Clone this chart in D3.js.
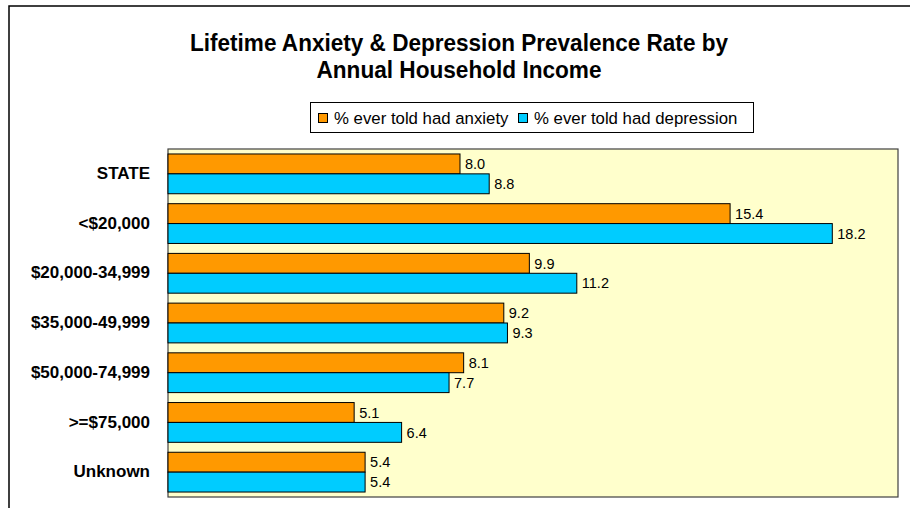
<!DOCTYPE html>
<html><head><meta charset="utf-8">
<script src="https://cdn.jsdelivr.net/npm/d3@7"></script>
<style>body{margin:0;background:#fff}svg{display:block}text{font-family:"Liberation Sans",Arial,sans-serif}</style>
</head><body><svg id="c" width="910" height="508"></svg>
<script>
const categories = ["STATE","<$20,000","$20,000-34,999","$35,000-49,999","$50,000-74,999",">=$75,000","Unknown"];
const seriesNames = ["% ever told had anxiety","% ever told had depression"];
const anxiety = [8.0,15.4,9.9,9.2,8.1,5.1,5.4];
const depression = [8.8,18.2,11.2,9.3,7.7,6.4,5.4];
const colors = ["#FF9900","#00CCFF"];
const titleLines = ["Lifetime Anxiety & Depression Prevalence Rate by","Annual Household Income"];

(function(){
const svg = d3.select("#c");
// chart area border
svg.append("rect").attr("x",9).attr("y",6).attr("width",920).attr("height",520)
  .attr("fill","#fff").attr("stroke","#000").attr("stroke-width",1.5);

// title
const tY = [51,78], tLen = [538,285];
titleLines.forEach((t,i)=>{
  svg.append("text").attr("x",459).attr("y",tY[i]).attr("text-anchor","middle")
    .attr("font-size",23.5).attr("font-weight","bold").attr("fill","#000")
    .attr("textLength",tLen[i]).attr("lengthAdjust","spacingAndGlyphs").text(t);
});

// legend
const lg = svg.append("g");
lg.append("rect").attr("x",310.5).attr("y",102.5).attr("width",443).attr("height",30)
  .attr("fill","#fff").attr("stroke","#000").attr("stroke-width",1);
const legX = [318,518];
seriesNames.forEach((s,i)=>{
  lg.append("rect").attr("x",legX[i]+0.5).attr("y",113.5).attr("width",9).attr("height",9)
    .attr("fill",colors[i]).attr("stroke","#000").attr("stroke-width",1);
  lg.append("text").attr("x",legX[i]+16).attr("y",123.5).attr("font-size",16.8).attr("fill","#000").text(s);
});

// plot
const pL=168, pR=898, pT=149, pB=497;
const x = d3.scaleLinear().domain([0,20]).range([pL,pR]);
const y = d3.scaleBand().domain(categories).range([pT,pB]).paddingInner(0.2).paddingOuter(0.1);
const ys = d3.scaleBand().domain([0,1]).range([0,y.bandwidth()]);

svg.append("rect").attr("x",pL).attr("y",pT).attr("width",pR-pL).attr("height",pB-pT)
  .attr("fill","#FFFFCC").attr("stroke","#404040").attr("stroke-width",1.2);

const data = [];
categories.forEach((c,i)=>{
  data.push({c, s:0, v:anxiety[i]});
  data.push({c, s:1, v:depression[i]});
});

svg.append("g").selectAll("rect").data(data).join("rect")
  .attr("x",x(0)).attr("y",d=>y(d.c)+ys(d.s))
  .attr("width",d=>x(d.v)-x(0)).attr("height",ys.bandwidth())
  .attr("fill",d=>colors[d.s]).attr("stroke","#000").attr("stroke-width",1);

svg.append("g").selectAll("text").data(data).join("text")
  .attr("x",d=>x(d.v)+5).attr("y",d=>y(d.c)+ys(d.s)+ys.bandwidth()/2)
  .attr("dy","0.36em").attr("font-size",14.5).attr("fill","#000")
  .text(d=>d3.format(".1f")(d.v));

// category axis labels
svg.append("g").selectAll("text").data(categories).join("text")
  .attr("x",150).attr("y",d=>y(d)+y.bandwidth()/2-1)
  .attr("dy","0.36em").attr("text-anchor","end").attr("font-size",17).attr("font-weight","bold")
  .attr("fill","#000").text(d=>d);
})();
</script></body></html>
